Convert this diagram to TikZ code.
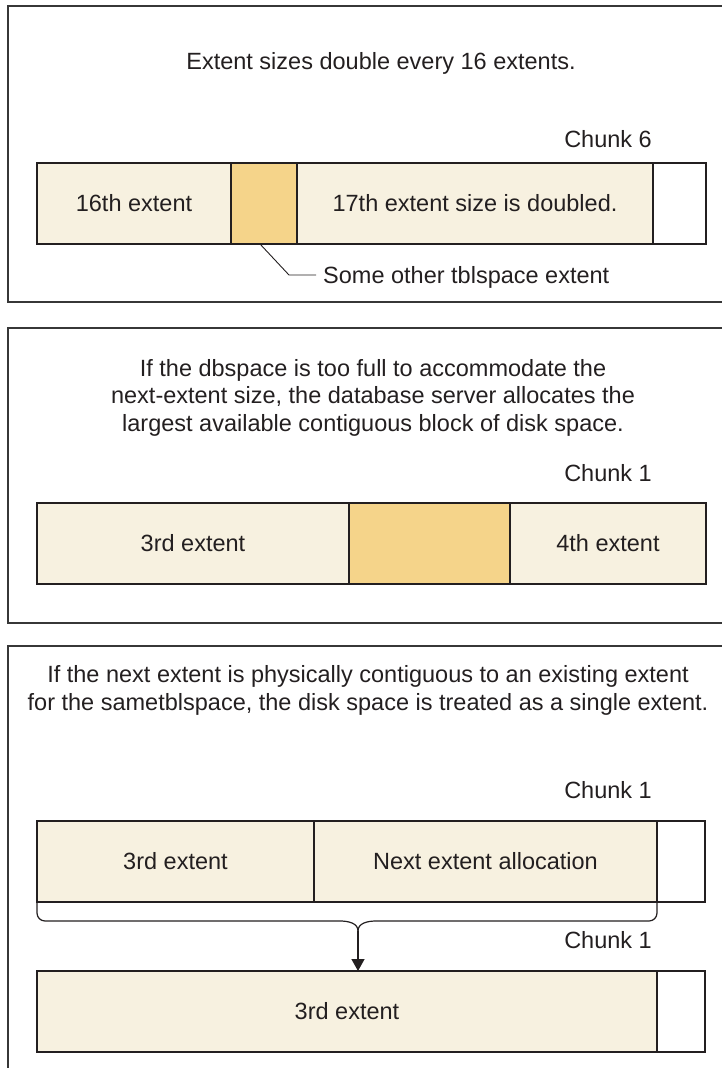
\documentclass[tikz,border=0pt]{standalone}
\usepackage{fontspec}
\setmainfont{Liberation Sans}
\usetikzlibrary{arrows.meta}
\definecolor{extfill}{RGB}{247,241,224}
\definecolor{otherfill}{RGB}{245,212,138}
\definecolor{ink}{RGB}{35,31,32}
\definecolor{framegray}{RGB}{55,55,55}

\begin{document}
\begin{tikzpicture}[x=1pt,y=-1pt,
  every node/.style={font=\fontsize{23.5}{27.5}\selectfont, text=ink},
  seg/.style={draw=ink, line width=1.4pt, fill=extfill, inner sep=0pt,
              outer sep=0pt, minimum height=81pt, anchor=north west},
  freeseg/.style={seg, fill=white},
  otherseg/.style={seg, fill=otherfill},
  caption/.style={inner sep=0pt, anchor=base, align=center},
  chunk/.style={inner sep=0pt, anchor=base east},
  panel/.style={draw=framegray, line width=1.6pt},
  leader/.style={draw=ink, line width=0.9pt},
  merge/.style={draw=ink, line width=1.2pt},
  down/.style={draw=ink, line width=1.4pt, -{Triangle[length=12pt,width=13pt]}}
]
\useasboundingbox (0,0) rectangle (722,1068);

% ---------- panel 1: extent size doubling ----------
\draw[panel] (8,6) rectangle (740,302);
\node[caption] (t1) at (381,69) {Extent sizes double every 16 extents.};
\node[chunk] (k1) at (652,147) {Chunk 6};
\node[seg, minimum width=194pt] (a1) at (37,163) {16th extent};
\node[otherseg, minimum width=66pt] (a2) at (231,163) {};
\node[seg, minimum width=356pt] (a3) at (297,163) {17th extent size is doubled.};
\node[freeseg, minimum width=53pt] (a4) at (653,163) {};
\node[inner sep=0pt, anchor=base west] (lbl) at (323,283) {Some other tblspace extent};
\coordinate (lk0) at (260,244);
\coordinate (lk1) at (289,275);
\coordinate (lk2) at (316,275);
\draw[leader] (lk0) -- (lk1) -- (lk2);

% ---------- panel 2: largest contiguous block ----------
% (base anchor of a multi-line caption sits on its last line)
\draw[panel] (8,328) rectangle (740,623);
\node[caption] (t2) at (373,431) {If the dbspace is too full to accommodate the\\
  next-extent size, the database server allocates the\\
  largest available contiguous block of disk space.};
\node[chunk] (k2) at (652,481) {Chunk 1};
\node[seg, minimum width=312pt] (b1) at (37,503) {3rd extent};
\node[otherseg, minimum width=161pt] (b2) at (349,503) {};
\node[seg, minimum width=196pt] (b3) at (510,503) {4th extent};

% ---------- panel 3: contiguous extents merge ----------
\draw[panel] (8,646) rectangle (740,1090);
\node[caption] (t3) at (368,710) {If the next extent is physically contiguous to an existing extent\\
  for the sametblspace, the disk space is treated as a single extent.};
\node[chunk] (k3) at (652,798) {Chunk 1};
\node[seg, minimum width=277pt] (c1) at (37,821) {3rd extent};
\node[seg, minimum width=343pt] (c2) at (314,821) {Next extent allocation};
\node[freeseg, minimum width=48pt] (c3) at (657,821) {};
\node[chunk] (k4) at (652,948) {Chunk 1};
\node[seg, minimum width=620pt] (d1) at (37,971) {3rd extent};
\node[freeseg, minimum width=48pt] (d2) at (657,971) {};

\coordinate (tip) at (358,931);
\draw[merge] (c1.south west) -- (37,913) to[out=-90,in=180] (45,921)
  -- (340,921) to[out=0,in=90] (tip);
\draw[merge] (c2.south east) -- (657,913) to[out=-90,in=0] (649,921)
  -- (376,921) to[out=180,in=90] (tip);
\draw[down] (tip) -- (d1.north -| tip);
\end{tikzpicture}
\end{document}
